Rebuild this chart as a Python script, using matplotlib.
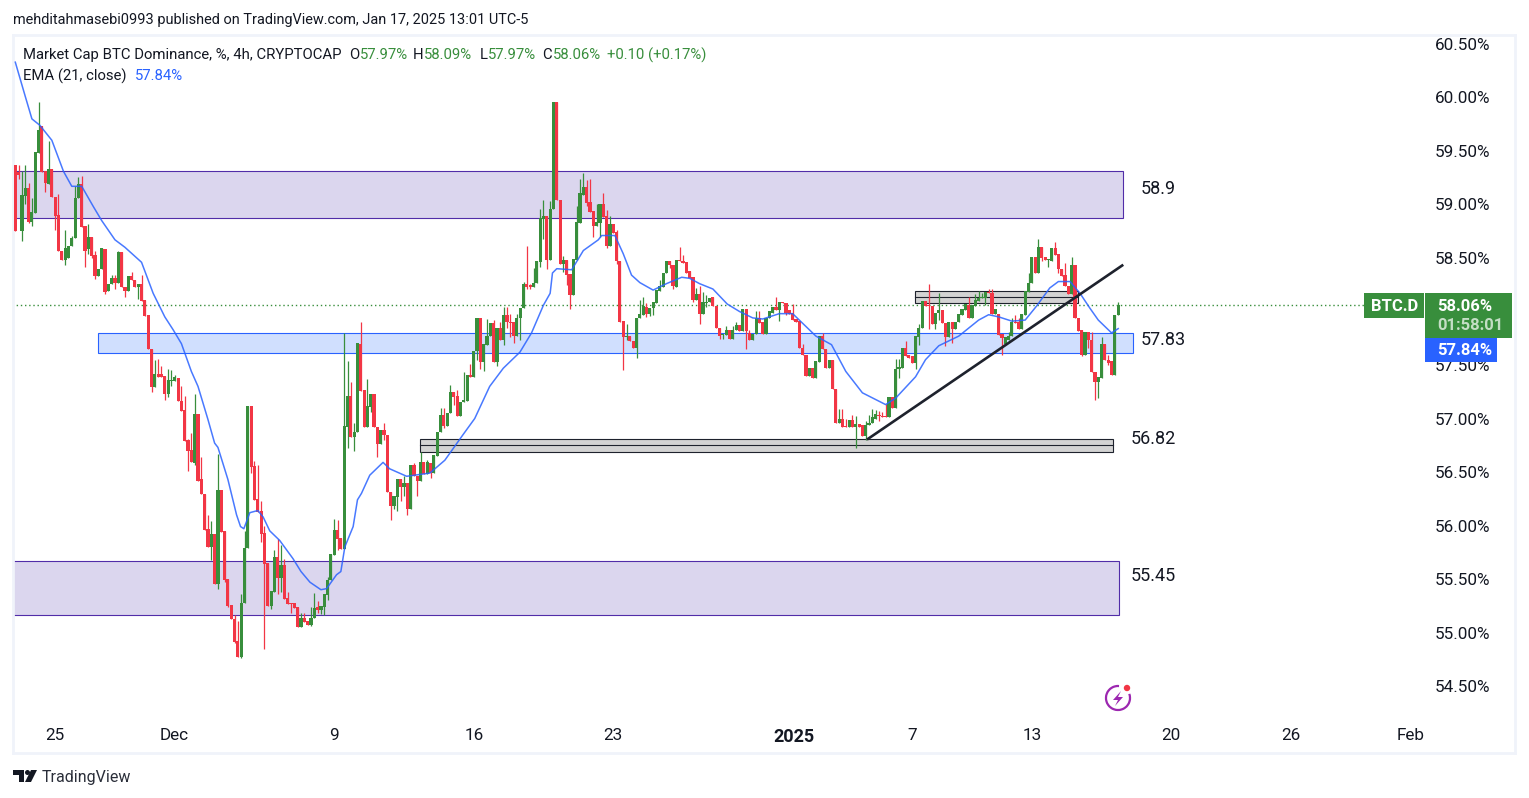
import matplotlib
matplotlib.use('Agg')
import matplotlib.pyplot as plt
from matplotlib.patches import Rectangle, Arc, Circle, Polygon

# candles, 4h bars
opens = [
    59.37,59.30,58.75,59.08,59.15,58.84,58.92,59.48,59.73,59.31,
    59.19,59.33,59.07,58.90,58.57,58.48,58.50,58.61,58.69,59.06,
    59.19,58.80,58.58,58.70,58.53,58.33,58.40,58.58,58.19,58.26,
    58.31,58.27,58.56,58.23,58.19,58.33,58.29,58.23,58.26,58.11,
    57.97,57.65,57.29,57.42,57.42,57.40,57.23,57.35,57.35,57.38,
    57.16,57.08,56.80,56.71,56.58,57.04,56.43,56.29,55.97,55.80,
    55.92,55.45,56.33,55.95,55.50,55.26,55.13,54.92,54.77,55.28,
    55.79,57.12,56.56,56.25,56.14,55.93,55.65,55.25,55.38,55.71,
    55.51,55.63,55.32,55.28,55.28,55.24,55.05,55.14,55.11,55.07,
    55.14,55.24,55.21,55.24,55.35,55.49,55.72,55.96,55.88,55.78,
    56.92,57.21,56.83,56.87,57.70,57.27,56.92,57.11,57.23,56.92,
    56.76,56.89,56.85,56.31,56.18,56.27,56.43,56.36,56.40,56.15,
    56.57,56.46,56.42,56.59,56.48,56.58,56.49,56.65,56.87,57.03,
    56.93,57.05,57.25,57.21,57.02,57.15,57.16,57.41,57.39,57.63,
    57.94,57.53,57.69,57.77,57.89,57.53,57.85,57.73,57.97,57.90,
    57.90,57.77,57.94,58.03,58.26,58.25,58.23,58.27,58.46,58.86,
    58.89,58.48,58.96,59.96,59.04,58.44,58.48,58.35,58.15,58.48,
    58.83,59.09,59.16,59.02,58.94,58.80,58.83,59.00,58.89,58.61,
    58.82,58.74,58.47,57.91,57.76,57.77,57.72,57.66,57.94,57.97,
    58.04,57.98,58.03,58.08,58.19,58.23,58.36,58.47,58.43,58.23,
    58.48,58.47,58.46,58.38,58.32,58.11,58.16,57.98,58.08,58.09,
    58.14,58.05,57.85,57.78,57.78,57.83,57.74,57.83,57.87,57.82,
    58.02,57.80,57.73,57.79,57.94,57.90,57.79,57.94,57.99,58.04,
    58.01,58.09,58.08,58.01,57.99,57.93,57.91,57.66,57.59,57.40,
    57.47,57.38,57.53,57.77,57.65,57.47,57.55,57.28,56.96,57.00,
    56.93,56.92,56.99,56.92,56.95,56.94,56.84,56.94,56.96,57.00,
    57.03,57.02,57.02,57.01,57.20,57.10,57.46,57.47,57.66,57.59,
    57.58,57.52,57.76,57.85,58.10,58.06,58.05,57.88,57.99,58.01,
    57.89,57.76,57.90,57.84,57.90,57.97,58.01,58.06,57.94,58.05,
    58.10,58.13,58.13,58.18,58.17,57.98,57.98,57.79,57.70,57.73,
    57.77,57.90,57.90,57.84,57.97,58.18,58.27,58.51,58.36,58.60,
    58.51,58.48,58.47,58.59,58.54,58.40,58.34,58.24,58.16,58.43,
    57.94,57.83,57.59,57.81,57.73,57.43,57.34,57.38,57.70,57.55,
    57.54,57.41,57.97,
]
closes = [
    58.75,59.28,59.09,59.15,58.84,58.93,59.49,59.70,59.30,59.20,
    59.33,59.07,58.89,58.57,58.48,58.59,58.61,58.69,59.06,59.19,
    58.79,58.57,58.70,58.52,58.33,58.40,58.59,58.18,58.26,58.31,
    58.27,58.56,58.23,58.19,58.33,58.29,58.23,58.26,58.10,57.96,
    57.65,57.29,57.42,57.39,57.39,57.23,57.36,57.36,57.39,57.16,
    57.07,56.79,56.70,56.59,57.04,56.42,56.29,55.96,55.80,55.92,
    55.45,56.33,55.94,55.49,55.25,55.13,54.91,54.77,55.28,55.79,
    57.12,56.55,56.24,56.13,55.92,55.64,55.25,55.39,55.71,55.51,
    55.63,55.31,55.27,55.27,55.23,55.05,55.14,55.10,55.07,55.14,
    55.23,55.21,55.25,55.36,55.49,55.73,55.96,55.87,55.78,56.93,
    57.21,56.83,56.87,57.71,57.26,56.92,57.12,57.23,56.92,56.76,
    56.89,56.85,56.31,56.18,56.28,56.43,56.36,56.40,56.15,56.57,
    56.46,56.42,56.59,56.48,56.59,56.49,56.66,56.87,57.03,56.93,
    57.05,57.25,57.20,57.02,57.15,57.17,57.41,57.39,57.63,57.94,
    57.53,57.70,57.77,57.89,57.53,57.85,57.73,57.97,57.90,57.89,
    57.77,57.94,58.03,58.26,58.23,58.23,58.27,58.47,58.87,58.89,
    58.48,58.96,59.96,59.04,58.44,58.48,58.34,58.15,58.49,58.84,
    59.11,59.16,59.01,58.93,58.80,58.84,59.00,58.88,58.61,58.82,
    58.73,58.47,57.90,57.76,57.77,57.72,57.66,57.94,57.98,58.05,
    57.98,58.03,58.09,58.20,58.24,58.36,58.47,58.43,58.24,58.48,
    58.47,58.45,58.36,58.31,58.11,58.16,57.98,58.09,58.09,58.13,
    58.05,57.85,57.77,57.79,57.83,57.74,57.83,57.87,57.82,58.02,
    57.82,57.73,57.79,57.94,57.89,57.79,57.94,58.00,58.04,58.01,
    58.09,58.08,57.99,57.98,57.92,57.90,57.66,57.59,57.40,57.47,
    57.38,57.54,57.77,57.65,57.47,57.55,57.28,56.96,57.00,56.92,
    56.92,56.99,56.92,56.95,56.92,56.84,56.94,56.96,57.01,57.04,
    57.02,57.01,57.01,57.20,57.10,57.46,57.48,57.66,57.58,57.57,
    57.52,57.77,57.85,58.10,58.05,58.05,57.88,57.99,58.01,57.89,
    57.76,57.90,57.84,57.90,57.98,58.02,58.07,57.94,58.06,58.11,
    58.13,58.14,58.18,58.17,57.98,58.02,57.78,57.75,57.76,57.77,
    57.90,57.89,57.84,57.98,58.19,58.27,58.51,58.36,58.60,58.50,
    58.48,58.49,58.59,58.53,58.40,58.33,58.24,58.16,58.43,57.94,
    57.82,57.59,57.81,57.73,57.43,57.34,57.39,57.70,57.55,57.52,
    57.41,57.97,58.06,
]

# only bars with a visible wick, by bar number
high_wicks = {
    1:59.37,2:59.31,3:59.37,4:59.20,5:59.06,7:59.96,10:59.59,13:59.10,15:58.76,17:58.71,
    18:59.17,19:59.26,20:59.27,22:58.82,24:58.57,29:58.34,30:58.34,31:58.57,35:58.37,38:58.34,
    42:57.55,43:57.56,44:57.49,46:57.46,47:57.45,48:57.41,50:57.30,51:57.21,52:56.81,53:56.86,
    54:57.23,56:56.64,58:56.10,59:56.04,61:56.67,66:55.16,67:55.11,68:55.36,69:55.95,72:56.60,
    73:56.57,74:56.23,75:56.00,78:55.77,79:55.87,80:55.82,81:55.69,82:55.38,86:55.18,87:55.18,
    89:55.24,90:55.37,91:55.29,94:55.52,96:56.06,97:56.05,99:57.80,100:57.54,101:57.34,102:56.96,
    104:57.90,106:57.37,111:56.96,117:56.46,120:56.58,122:56.69,124:56.61,128:57.10,129:57.10,131:57.31,
    133:57.27,135:57.43,137:57.51,142:57.93,144:57.92,146:57.90,147:58.04,148:58.04,149:57.98,151:57.98,
    153:58.28,154:58.61,155:58.26,156:58.41,158:58.96,159:59.04,161:59.03,165:58.52,169:58.99,170:59.24,
    171:59.29,172:59.23,173:59.24,175:59.00,177:59.11,178:58.95,179:58.89,181:58.76,184:57.88,188:58.11,
    189:58.14,190:58.08,194:58.29,200:58.60,201:58.53,205:58.22,206:58.24,207:58.18,208:58.15,214:57.86,
    216:57.86,217:57.90,221:57.83,223:58.00,224:58.00,229:58.14,234:58.07,237:57.70,243:57.80,248:57.09,
    249:57.09,250:57.00,252:57.03,253:57.02,256:56.98,257:57.03,258:57.09,259:57.08,260:57.07,261:57.06,
    262:57.14,265:57.56,266:57.56,268:57.72,272:57.88,275:58.26,278:58.17,287:58.14,289:58.16,290:58.19,
    291:58.17,293:58.21,294:58.21,299:57.81,300:57.94,301:57.97,302:57.94,305:58.36,308:58.68,313:58.65,
    316:58.45,318:58.51,324:57.81,327:57.76,329:57.59,332:58.09,
}
low_wicks = {
    1:59.24,2:58.66,3:59.00,4:58.83,5:58.80,9:59.12,12:58.76,15:58.43,21:58.42,22:58.54,
    23:58.50,24:58.30,27:58.16,30:58.21,33:58.14,37:58.12,41:57.25,45:57.17,46:57.20,47:57.30,
    52:56.51,54:56.57,59:55.68,61:55.41,63:55.47,64:55.24,66:54.90,68:54.76,71:56.49,74:55.85,
    75:54.85,77:55.22,79:55.36,80:55.38,83:55.18,89:55.06,91:55.18,92:55.17,93:55.16,94:55.30,
    97:55.77,100:56.72,102:56.70,107:57.06,109:56.64,111:56.80,113:56.05,114:56.15,115:56.14,116:56.23,
    117:56.28,118:56.10,121:56.28,125:56.44,129:56.91,132:57.13,139:57.55,140:57.46,141:57.44,145:57.49,
    147:57.69,148:57.85,149:57.76,150:57.71,152:57.73,154:58.21,155:58.21,158:58.42,159:58.68,160:58.40,
    165:58.37,166:58.25,167:58.02,172:58.99,174:58.70,176:58.70,178:58.59,181:58.44,183:57.45,184:57.73,
    187:57.57,190:57.95,191:57.96,192:57.97,197:58.41,198:58.21,204:58.09,206:57.88,208:58.04,212:57.74,
    213:57.74,220:57.65,230:57.91,232:57.97,253:56.72,256:56.80,260:56.98,266:57.38,271:57.46,272:57.69,
    275:57.84,277:57.84,278:57.92,280:57.68,282:57.71,292:58.06,297:57.59,309:58.47,311:58.42,314:58.36,
    321:57.58,323:57.66,325:57.17,326:57.19,329:57.50,
}

# EMA line, read at these bars
ema_bars = [0,3,5,7.4,11,14.5,17,20,23.5,26,30,33,38,41.5,45,47.5,50,53,55,58,60,61,64,66.6,67.8,68.8,70.6,73,
            74.6,76.6,79.6,83.6,86,88.7,92,93.7,96.7,98,99.2,101.7,103,104.2,106.7,110.7,112.7,117.8,124.8,
            129.3,134.8,138.3,142.8,146.9,151.9,155.4,159,161,161.7,163,167.5,171,175.5,176.5,180.5,183,185.5,
            188,192,196,200.6,203,206,210,214.3,218,222,225,230,234,237,241,245.7,250,255,262,265,271,274,
            278,284,290,293,296,300,304,307.4,311.4,314,317.5,320.5,323.5,326,330,332]
ema_vals = [60.33,60.01,59.80,59.74,59.60,59.31,59.17,59.17,58.98,58.85,58.67,58.60,58.46,58.17,57.95,57.83,57.70,57.44,
            57.30,56.99,56.77,56.73,56.43,56.10,55.99,55.97,56.12,56.14,56.08,55.95,55.86,55.69,55.57,55.47,55.40,55.41,
            55.54,55.57,55.80,55.99,56.24,56.30,56.47,56.59,56.53,56.46,56.49,56.61,56.85,57.00,57.30,57.47,57.62,
            57.80,58.06,58.17,58.36,58.40,58.39,58.57,58.67,58.71,58.71,58.54,58.34,58.27,58.20,58.26,58.32,58.31,
            58.26,58.21,58.07,58.00,57.94,57.93,57.98,57.98,57.89,57.77,57.69,57.44,57.24,57.13,57.19,57.39,57.55,
            57.68,57.77,57.92,57.97,57.95,57.91,57.92,58.05,58.22,58.28,58.28,58.17,58.03,57.92,57.80,57.84]

price_ticks = [54.5,55.0,55.5,56.0,56.5,57.0,57.5,58.0,58.5,59.0,59.5,60.0,60.5]
date_bars = [12,47.8,96,138.2,180,234.4,270,306,348,384,420]
date_labels = ['25','Dec','9','16','23','2025','7','13','20','26','Feb']

# zones: bar start, bar end, low, high
purple_top = (-4, 333.4, 58.87, 59.31)
purple_low = (-4, 332.2, 55.16, 55.67)
blue_zone = (25, 336.5, 57.61, 57.80)
gray_low = (121.8, 330.3, 56.69, 56.81)
gray_up = (270.8, 320, 58.08, 58.19)
trend_bars = [256.7, 333.2]
trend_vals = [56.81, 58.43]

GREEN = '#388e3c'
RED = '#f23645'
BLUE = '#2962ff'
INK = '#131722'
plt.rcParams['font.family'] = ['Roboto', 'DejaVu Sans']

fig = plt.figure(figsize=(15.29, 7.98), dpi=100, facecolor='white')
# px box of the chart pane
ax = fig.add_axes([13/1529, 1-753/798, (1515-13)/1529, (753-35)/798])
ax.set_xlim((13-15.3)/3.322, (1515-15.3)/3.322)
ax.set_ylim(53.874, 60.584)
for s in ax.spines.values():
    s.set_color('#f0f3fa')
    s.set_linewidth(2)

# zones
for z, fc, ec in [(purple_top, '#dbd6ee', '#512da8'), (purple_low, '#dbd6ee', '#512da8'), (blue_zone, '#d0dffe', BLUE)]:
    ax.add_patch(Rectangle((z[0], z[2]), z[1]-z[0], z[3]-z[2], fc=fc, ec=ec, lw=0.8, zorder=1))
for z in [gray_low, gray_up]:
    ax.add_patch(Rectangle((z[0], z[2]), z[1]-z[0], z[3]-z[2], fc='#d3d3d3', ec='#1e222d', lw=0.8, zorder=1))
    ax.plot([z[0], z[1]], [(z[2]+z[3])/2]*2, color='#1e222d', lw=0.8, zorder=1)

# candles
for i in range(len(opens)):
    o, c = opens[i], closes[i]
    col = GREEN if c >= o else RED
    hi = high_wicks.get(i, max(o, c))
    lo = low_wicks.get(i, min(o, c))
    ax.vlines(i, lo, hi, color=col, lw=0.9, zorder=3)
    ax.bar(i, abs(c-o), bottom=min(o, c), width=0.95, color=col, lw=0, zorder=3)

ax.plot(ema_bars, ema_vals, color=BLUE, lw=1.1, alpha=0.85, zorder=4)
ax.plot(trend_bars, trend_vals, color='#1e222d', lw=1.9, zorder=5)

# last price line
ax.plot([-1, 1365/3.322-4.6], [58.06, 58.06], color=GREEN, lw=1, dashes=(1, 2), zorder=2)

ax.set_yticks(price_ticks)
# 58.00% sits under the price tag
ax.set_yticklabels(['' if p == 58.0 else '%.2f%%' % p for p in price_ticks])
ax.yaxis.tick_right()
ax.tick_params(axis='y', length=0, pad=-57.5, labelsize=12.3, labelcolor=INK)
ax.set_xticks(date_bars)
ax.set_xticklabels(date_labels)
ax.tick_params(axis='x', length=0, pad=-18, labelsize=12.3, labelcolor=INK, direction='in')
for t in ax.get_xticklabels():
    if t.get_text() == '2025':
        t.set_fontweight('bold')
        t.set_fontsize(13)

# overlay in pixels for legend, labels and logos
ov = fig.add_axes([0, 0, 1, 1], facecolor='none')
ov.set_xlim(0, 1529)
ov.set_ylim(798, 0)
ov.axis('off')

ov.text(13, 20, 'mehditahmasebi0993 published on TradingView.com, Jan 17, 2025 13:01 UTC-5', fontsize=10.45, color=INK, va='center')
ov.text(23, 55, 'Market Cap BTC Dominance, %, 4h, CRYPTOCAP', fontsize=10.7, color=INK, va='center')
for x, lab, val in [(349, 'O', '57.97%'), (413, 'H', '58.09%'), (480, 'L', '57.97%'), (542, 'C', '58.06%')]:
    ov.text(x, 55, lab, fontsize=10.7, color=INK, va='center')
    ov.text(x+(11 if lab != 'L' else 8), 55, val, fontsize=10.7, color=GREEN, va='center')
ov.text(607, 55, '+0.10 (+0.17%)', fontsize=10.7, color=GREEN, va='center')
ov.text(23, 76, 'EMA (21, close)', fontsize=10.7, color=INK, va='center')
ov.text(135, 76, '57.84%', fontsize=10.7, color=BLUE, va='center')

# zone labels
for x, y, s in [(1141, 189.5, '58.9'), (1141, 340, '57.83'), (1131, 439, '56.82'), (1131, 576, '55.45')]:
    ov.text(x, y, s, fontsize=13, color=INK, va='center')

# price tags
ov.add_patch(Rectangle((1364, 293), 60, 25, fc=GREEN, ec='none'))
ov.add_patch(Rectangle((1425, 293), 87, 45, fc=GREEN, ec='none'))
ov.add_patch(Rectangle((1425, 338), 72, 24, fc=BLUE, ec='none'))
ov.text(1394.5, 306.5, 'BTC.D', fontsize=12, color='white', fontweight='bold', ha='center', va='center')
ov.text(1437, 306.5, '58.06%', fontsize=12, color='white', fontweight='bold', va='center')
ov.text(1437, 326, '01:58:01', fontsize=12, color='#c4dec5', fontweight='bold', va='center')
ov.text(1437, 350.5, '57.84%', fontsize=12, color='white', fontweight='bold', va='center')

# lightning badge
ov.add_patch(Arc((1118, 698), 24, 24, theta1=-20, theta2=275, ec='#9c27b0', lw=1.6))
ov.add_patch(Polygon([(1121, 691), (1113, 700), (1118, 700), (1115, 706), (1123, 697), (1118, 697)], fc='#9c27b0', ec='none'))
ov.add_patch(Circle((1127, 688), 3.2, fc=RED, ec='none'))

# TradingView logo
ov.add_patch(Polygon([(13, 770), (24, 770), (24, 782), (19, 782), (19, 775), (13, 775)], fc=INK, ec='none'))
ov.add_patch(Circle((27.5, 772.5), 2.5, fc=INK, ec='none'))
ov.add_patch(Polygon([(31, 770), (37, 770), (31, 782), (25, 782)], fc=INK, ec='none'))
ov.text(42, 777.5, 'TradingView', fontsize=11.5, color='#2a2e39', va='center')

fig.savefig('out.png', dpi=100, facecolor='white')
